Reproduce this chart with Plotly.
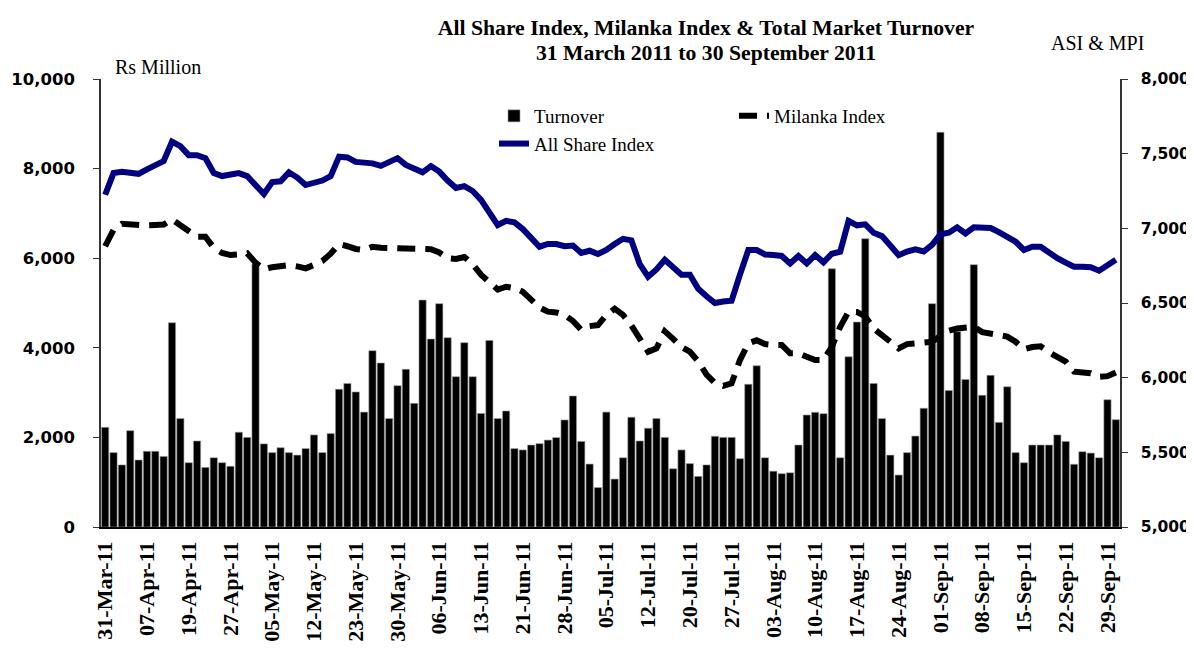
import plotly.graph_objects as go

# Trading days (categories)
months = ["Mar", "Apr", "May", "Jun", "Jul", "Aug", "Sep"]
days_by_month = {
    "Mar": [31],
    "Apr": [1, 4, 5, 6, 7, 8, 11, 12, 18, 19, 20, 21, 25, 26, 27, 28, 29],
    "May": [3, 4, 5, 6, 9, 10, 11, 12, 13, 16, 19, 20, 23, 24, 25, 26, 27, 30, 31],
    "Jun": [1, 2, 3, 6, 7, 8, 9, 10, 13, 14, 16, 17, 20, 21, 22, 23, 24, 27, 28, 29, 30],
    "Jul": [1, 4, 5, 6, 7, 8, 11, 12, 13, 15, 18, 19, 20, 21, 22, 25, 26, 27, 28, 29],
    "Aug": [1, 2, 3, 4, 5, 8, 9, 10, 11, 12, 15, 16, 17, 18, 19, 22, 23, 24, 25, 26, 29, 30],
    "Sep": [1, 2, 5, 6, 7, 8, 9, 12, 13, 14, 15, 16, 19, 20, 21, 22, 23, 26, 27, 28, 29, 30],
}
dates = [f"{d:02d}-{m}-11" for m in months for d in days_by_month[m]]
tick_labels = dates[::5]

title_line1 = "All Share Index, Milanka Index & Total Market Turnover"
title_line2 = "31 March 2011 to 30 September 2011"

turnover = [
    2225, 1660, 1385, 2150, 1495, 1690, 1690, 1575, 4560, 2420,
    1435, 1920, 1330, 1545, 1435, 1355, 2115, 2000, 5870, 1855,
    1660, 1770, 1660, 1605, 1750, 2055, 1660, 2085, 3075, 3205,
    3015, 2565, 3935, 3660, 2420, 3155, 3520, 2760, 5065, 4195,
    4985, 4225, 3355, 4115, 3355, 2535, 4165, 2420, 2590, 1750,
    1720, 1830, 1860, 1940, 1995, 2390, 2925, 1910, 1405, 880,
    2565, 1070, 1545, 2450, 1920, 2205, 2420, 2000, 1300, 1720,
    1415, 1130, 1385, 2025, 2000, 2000, 1525, 3185, 3600, 1545,
    1245, 1190, 1210, 1830, 2500, 2560, 2530, 5765, 1545, 3800,
    4575, 6435, 3205, 2420, 1605, 1160, 1660, 2030, 2650, 4985,
    8810, 3045, 4360, 3295, 5855, 2940, 3385, 2335, 3130, 1660,
    1435, 1830, 1830, 1830, 2055, 1910, 1400, 1680, 1650, 1545,
    2840, 2395,
]

asi = [
    7225, 7370, 7378, 7375, 7365, 7395, 7425, 7450, 7580, 7550,
    7490, 7490, 7470, 7370, 7350, 7365, 7370, 7350, 7290, 7230,
    7310, 7315, 7375, 7340, 7290, 7300, 7320, 7350, 7480, 7475,
    7445, 7440, 7435, 7418, 7440, 7470, 7425, 7395, 7375, 7417,
    7380, 7320, 7270, 7283, 7250, 7190, 7100, 7022, 7050, 7040,
    6995, 6940, 6877, 6895, 6895, 6880, 6885, 6835, 6850, 6828,
    6855, 6895, 6930, 6920, 6760, 6676, 6725, 6790, 6735, 6690,
    6690, 6595, 6545, 6500, 6510, 6515, 6690, 6855, 6855, 6825,
    6821, 6815, 6765, 6815, 6765, 6821, 6772, 6830, 6843, 7050,
    7020, 7027, 6970, 6948, 6885, 6820, 6845, 6860, 6845, 6890,
    6960, 6971, 7007, 6966, 7007, 7005, 7002, 6975, 6940, 6910,
    6855, 6877, 6877, 6833, 6800, 6770, 6743, 6742, 6739, 6716,
    6754, 6790,
]

milanka = [
    6880, 6990, 7030, 7025, 7015, 7020, 7022, 7025, 7060, 7020,
    6975, 6944, 6944, 6870, 6835, 6821, 6825, 6833, 6770, 6725,
    6740, 6750, 6754, 6745, 6732, 6755, 6781, 6830, 6895, 6880,
    6862, 6855, 6877, 6870, 6868, 6866, 6860, 6862, 6866, 6860,
    6838, 6800, 6795, 6808, 6760, 6690, 6640, 6590, 6609, 6600,
    6575, 6520, 6470, 6442, 6437, 6420, 6380, 6320, 6345, 6352,
    6420, 6462, 6420, 6350, 6270, 6174, 6196, 6310, 6260, 6205,
    6174, 6110, 6020, 5965, 5945, 5962, 6118, 6230, 6250, 6225,
    6219, 6219, 6163, 6163, 6140, 6118, 6118, 6207, 6341, 6442,
    6440, 6410, 6330, 6288, 6245, 6196, 6225, 6230, 6225, 6240,
    6280, 6314, 6330, 6335, 6341, 6305, 6292, 6288, 6275, 6241,
    6190, 6205, 6210, 6170, 6135, 6107, 6040, 6032, 6030, 6005,
    6010, 6035,
]

SERIF = "Liberation Serif, Times New Roman, serif"
SANS = "DejaVu Sans, Verdana, sans-serif"

fig = go.Figure()
fig.add_trace(go.Bar(
    x=dates, y=turnover, name="Turnover",
    marker=dict(color="black", line=dict(color="#9a9a9a", width=0.6)),
    legend="legend",
))
fig.add_trace(go.Scatter(
    x=dates, y=asi, name="All Share Index", mode="lines", yaxis="y2",
    line=dict(color="#000080", width=6),
    legend="legend",
))
fig.add_trace(go.Scatter(
    x=dates, y=milanka, name="Milanka Index", mode="lines", yaxis="y2",
    line=dict(color="black", width=6, dash="18px,10px"),
    legend="legend2",
))

# page body adds an 8px offset; figure is sized so the plot lands where the reference has it
OFF = 8
W, H = 1194 - OFF, 657 - OFF
PL, PR, PT, PB = 101, 1120, 79, 527          # plot box in reference-image pixels
L, T = PL - OFF, PT - OFF
R, B = W - (PR - OFF), H - (PB - OFF)
pw, ph = PR - PL, PB - PT

def px_x(x):
    return (x - PL) / pw

def px_y(y):
    return (PB - y) / ph

fig.update_layout(
    width=W, height=H,
    margin=dict(l=L, r=R, t=T, b=B, autoexpand=False),
    paper_bgcolor="white", plot_bgcolor="white",
    bargap=0.14,
    title=dict(
        text=title_line1,
        font=dict(family=SERIF, size=21.7, color="black", weight="bold"),
        x=(706 - OFF) / W, xanchor="center", y=1 - (27 - OFF) / H, yanchor="middle",
    ),
    xaxis=dict(
        type="category", categoryorder="array", categoryarray=dates,
        tickmode="array", tickvals=tick_labels, ticktext=tick_labels,
        tickangle=-90, range=[-0.5, len(dates) - 0.5], automargin=False,
        tickfont=dict(family=SERIF, size=22, color="black", weight="bold"),
        showline=True, linecolor="black", linewidth=1.5, showgrid=False,
        ticks="", ticklabelstandoff=4,
    ),
    yaxis=dict(
        range=[0, 10000], dtick=2000, tickformat=",", automargin=False,
        showline=True, linecolor="#333", linewidth=1.5, showgrid=False,
        ticks="outside", ticklen=6, tickcolor="#333", zeroline=False,
        ticklabelstandoff=15,
        tickfont=dict(family=SANS, size=16.5, color="black", weight="bold"),
    ),
    yaxis2=dict(
        range=[5000, 8000], dtick=500, tickformat=",", automargin=False,
        overlaying="y", side="right",
        showline=True, linecolor="#333", linewidth=1.5, showgrid=False,
        ticks="outside", ticklen=6, tickcolor="#333", zeroline=False,
        ticklabelstandoff=10,
        tickfont=dict(family=SANS, size=15.5, color="black", weight="bold"),
    ),
    legend=dict(
        x=px_x(494), y=px_y(97), xanchor="left", yanchor="top",
        orientation="v", bgcolor="rgba(0,0,0,0)", tracegroupgap=0,
        font=dict(family=SERIF, size=19, color="black"),
        itemwidth=30,
    ),
    legend2=dict(
        x=px_x(734), y=px_y(97), xanchor="left", yanchor="top",
        orientation="v", bgcolor="rgba(0,0,0,0)",
        font=dict(family=SERIF, size=19, color="black"),
        itemwidth=30,
    ),
    showlegend=True,
    annotations=[
        dict(text=title_line2, x=px_x(706), y=px_y(53), xref="paper", yref="paper",
             xanchor="center", yanchor="middle", showarrow=False,
             font=dict(family=SERIF, size=21.7, color="black", weight="bold")),
        dict(text="Rs Million", x=px_x(113), y=px_y(67), xref="paper", yref="paper",
             xanchor="left", yanchor="middle", showarrow=False,
             font=dict(family=SERIF, size=20, color="black")),
        dict(text="ASI & MPI", x=px_x(1097), y=px_y(43), xref="paper", yref="paper",
             xanchor="center", yanchor="middle", showarrow=False,
             font=dict(family=SERIF, size=20, color="black")),
    ],
)

fig.write_html("out.html")
